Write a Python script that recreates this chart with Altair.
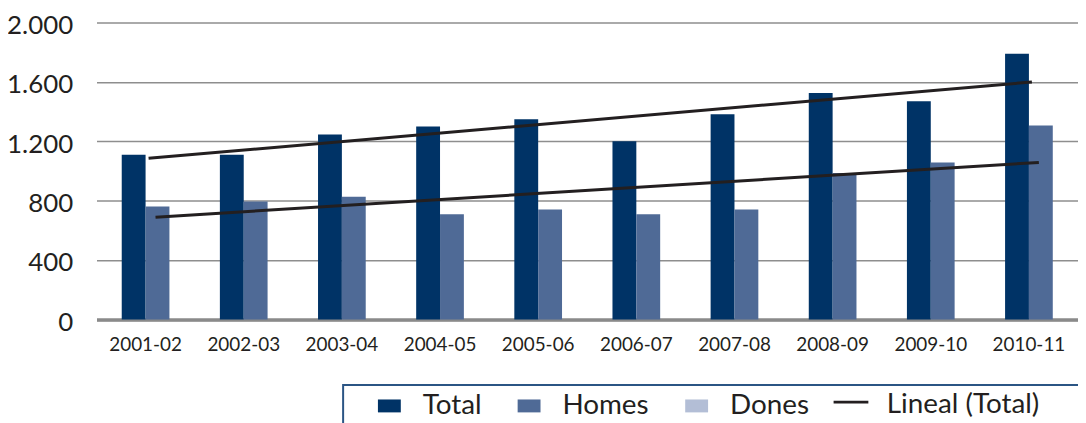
import altair as alt
import pandas as pd

# ---- data ----
years = ["2001-02", "2002-03", "2003-04", "2004-05", "2005-06",
         "2006-07", "2007-08", "2008-09", "2009-10", "2010-11"]
total = [1110, 1110, 1246, 1300, 1348, 1200, 1382, 1525, 1470, 1790]
homes = [760, 795, 826, 708, 740, 708, 740, 987, 1058, 1307]

bar_series = ["Total", "Homes", "Dones"]
bar_colors = ["#003366", "#4f6a96", "#b3bed6"]
trend_name = "Lineal (Total)"
trend_color = "#231f20"

trend_years = ["2001-02", "2010-11"]
trend_total = [1086, 1600]
trend_homes = [689, 1058]

y_ticks = [0, 400, 800, 1200, 1600, 2000]

# ---- tables ----
bars_df = pd.DataFrame({
    "Curs": years * 2,
    "Serie": ["Total"] * len(years) + ["Homes"] * len(years),
    "Valor": total + homes,
})
trend_total_df = pd.DataFrame({"Curs": trend_years, "Valor": trend_total,
                               "Serie": [trend_name] * len(trend_years)})
trend_homes_df = pd.DataFrame({"Curs": trend_years, "Valor": trend_homes})

FONT = "Lato"
TEXT = "#231f20"
BLANK = "\u2800"

x_enc = alt.X(
    "Curs:N", sort=years,
    scale=alt.Scale(domain=years, paddingInner=0.514, paddingOuter=0.257),
    axis=alt.Axis(title=None, labelAngle=0, labelFont=FONT, labelFontSize=19,
                  labelColor=TEXT, labelPadding=16, ticks=False,
                  domainColor="#8a8a8a", domainWidth=3.5, grid=False),
)
y_enc = alt.Y(
    "Valor:Q",
    scale=alt.Scale(domain=[0, 2000], nice=False),
    axis=alt.Axis(title=None, values=y_ticks,
                  labelExpr="replace(format(datum.value, ','), ',', '.')",
                  labelFont=FONT, labelFontSize=26, labelColor=TEXT,
                  labelPadding=24, labelOffset=3, ticks=False, domain=False,
                  grid=True, gridColor="#8e8e8e", gridWidth=1.5),
)

# bar legend (no frame)
bar_legend = alt.Legend(
    title=None, orient="none", legendX=279.5, legendY=370.5, direction="horizontal",
    labelFont=FONT, labelFontSize=28, labelColor=TEXT, labelOffset=18.5,
    labelLimit=600, columnPadding=32.5, symbolSize=900, padding=0,
    symbolType="M-0.767,-0.433H0.767V0.433H-0.767Z", symbolStrokeWidth=0,
)

# trend legend carries the frame around the whole legend row
line_legend = alt.Legend(
    title=" ", titleOrient="left", titleFontSize=1, titlePadding=490.7,
    orient="none", legendX=248, legendY=364.5, direction="horizontal",
    labelFont=FONT, labelFontSize=28, labelColor=TEXT, labelOffset=22,
    labelLimit=900, symbolSize=529, padding=6,
    symbolType="M-1.52,-0.25H1.52", symbolStrokeWidth=2.8,
    strokeColor="#2b5584",
    labelExpr="datum.label + '" + BLANK * 3 + "'",
)

bars = alt.Chart(bars_df).mark_bar().encode(
    x=x_enc,
    xOffset=alt.XOffset("Serie:N", sort=["Total", "Homes"],
                        scale=alt.Scale(domain=["Total", "Homes"], paddingInner=0, paddingOuter=0)),
    y=y_enc,
    color=alt.Color("Serie:N", scale=alt.Scale(domain=bar_series, range=bar_colors),
                    legend=bar_legend),
)

line_total = alt.Chart(trend_total_df).mark_line(strokeWidth=3, xOffset=3).encode(
    x=x_enc, y=y_enc,
    stroke=alt.Stroke("Serie:N", scale=alt.Scale(domain=[trend_name], range=[trend_color]),
                      legend=line_legend),
)
line_homes = alt.Chart(trend_homes_df).mark_line(color=trend_color, strokeWidth=3, xOffset=10).encode(
    x=x_enc, y=y_enc)

chart = alt.layer(bars, line_total, line_homes).resolve_scale(
    color="independent", stroke="independent"
).properties(
    width=987, height=298.5,
    autosize=alt.AutoSizeParams(type="none"),
    padding={"left": 89, "top": 13.5, "right": 0, "bottom": 103},
    background="white",
).configure_view(stroke=None).configure_legend(strokeWidth=2)

chart.save("out.html", embed_options={"renderer": "svg", "actions": False})
